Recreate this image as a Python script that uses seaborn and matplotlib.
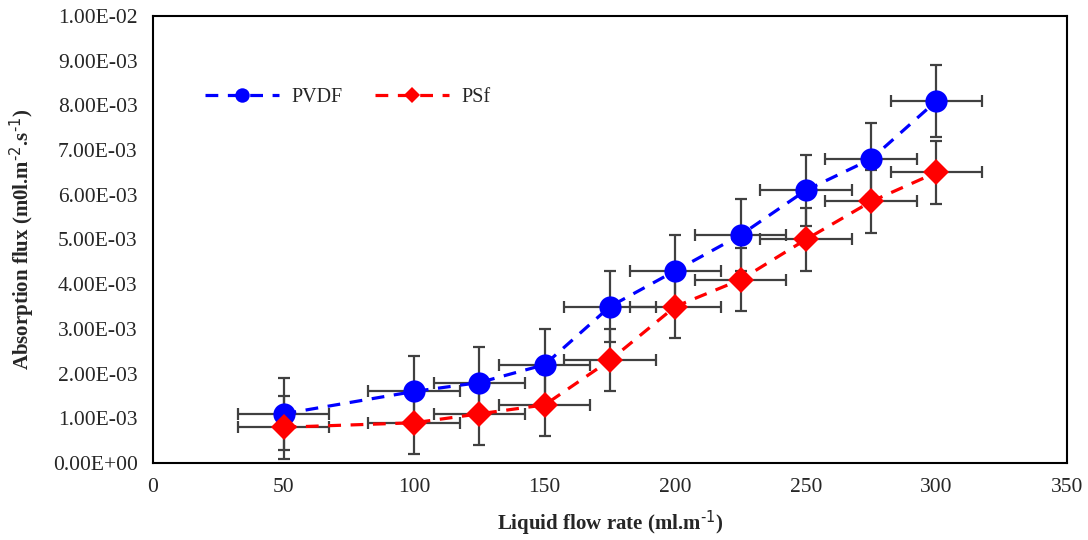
import numpy as np
import pandas as pd
import matplotlib
matplotlib.use("Agg")
import matplotlib.pyplot as plt
import seaborn as sns
from matplotlib.ticker import FuncFormatter, MultipleLocator

flow = [50, 100, 125, 150, 175, 200, 225, 250, 275, 300]
pvdf = [1.1e-3, 1.6e-3, 1.8e-3, 2.2e-3, 3.5e-3, 4.3e-3, 5.1e-3, 6.1e-3, 6.8e-3, 8.1e-3]
psf = [0.8e-3, 0.9e-3, 1.1e-3, 1.3e-3, 2.3e-3, 3.5e-3, 4.1e-3, 5.0e-3, 5.85e-3, 6.5e-3]
pvdf_err = 0.8e-3
psf_err = 0.7e-3
flow_err = 17.5

df = pd.DataFrame({'flow': flow, 'PVDF': pvdf, 'PSf': psf})

sns.set_style("white")
plt.rcParams['font.family'] = ['Liberation Serif', 'DejaVu Serif']
plt.rcParams['mathtext.default'] = 'regular'
plt.rcParams['axes.unicode_minus'] = False

fig = plt.figure(figsize=(10.88, 5.4), dpi=100)
ax = fig.add_axes([0.1406, 0.1426, 0.8401, 0.8278])

ax.errorbar(df['flow'], df['PVDF'], xerr=flow_err, yerr=pvdf_err, fmt='none',
            ecolor='#404040', elinewidth=1.6, capsize=4.5, capthick=1.6, zorder=2)
ax.errorbar(df['flow'], df['PSf'], xerr=flow_err, yerr=psf_err, fmt='none',
            ecolor='#404040', elinewidth=1.6, capsize=4.5, capthick=1.6, zorder=2)

sns.lineplot(data=df, x='flow', y='PVDF', ax=ax, color='#0000ff', marker='o',
             markersize=16, markeredgewidth=0, linestyle=(0, (4, 3)), linewidth=2.3,
             label='PVDF', zorder=3)
sns.lineplot(data=df, x='flow', y='PSf', ax=ax, color='#ff0000', marker='D',
             markersize=13, markeredgewidth=0, linestyle=(0, (4, 3)), linewidth=2.3,
             label='PSf', zorder=3)

ax.set_xlim(0, 350)
ax.set_ylim(0, 0.01)
ax.xaxis.set_major_locator(MultipleLocator(50))
ax.yaxis.set_major_locator(MultipleLocator(0.001))
ax.yaxis.set_major_formatter(FuncFormatter(lambda v, p: f"{v:.2E}"))
ax.tick_params(length=0, labelsize=15.5)
ax.tick_params(axis='y', pad=11)
ax.tick_params(axis='x', pad=11)

for s in ax.spines.values():
    s.set_color('black')
    s.set_linewidth(1.5)

ax.set_xlabel(r'Liquid flow rate (ml.m$^{\text{-1}}$)', fontsize=15, fontweight='bold', labelpad=8)
ax.set_ylabel(r'Absorption flux (m0l.m$^{\text{-2}}$.s$^{\text{-1}}$)', fontsize=15, fontweight='bold', labelpad=12)

ax.legend(loc='center left', bbox_to_anchor=(0.037, 0.817), ncol=2, frameon=False,
          fontsize=14.5, handlelength=3.7, columnspacing=1.6, handletextpad=0.6,
          markerscale=0.65)

fig.savefig('out.png', dpi=100)
